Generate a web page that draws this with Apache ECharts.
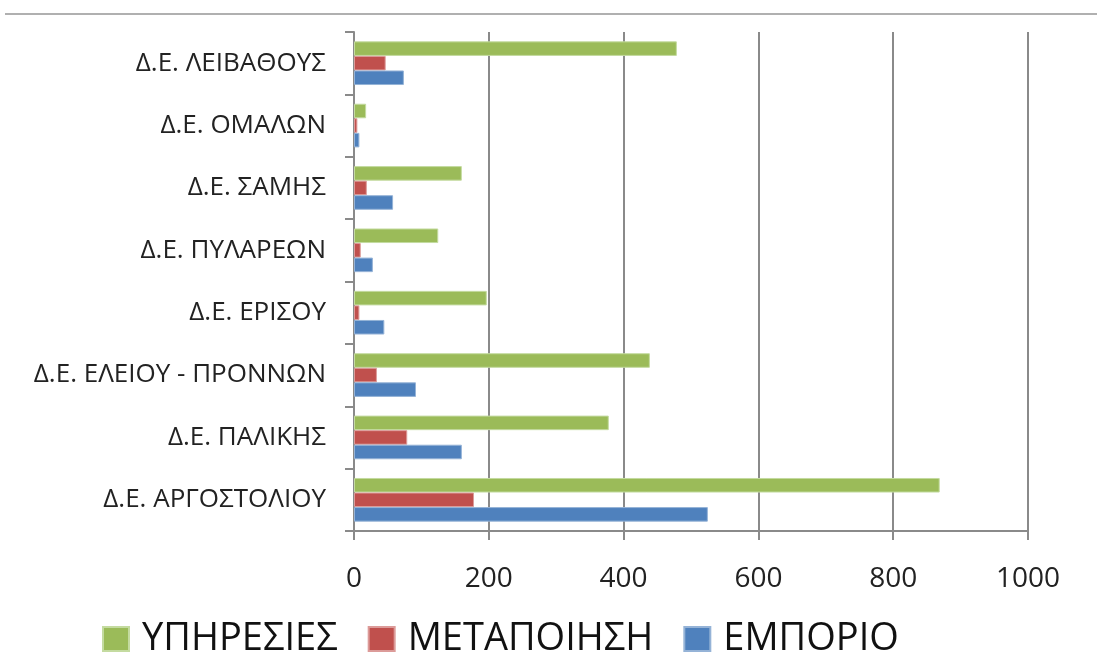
<!DOCTYPE html>
<html>
<head>
<meta charset="utf-8">
<script src="https://cdn.jsdelivr.net/npm/echarts@6/dist/echarts.min.js"></script>
<style>
  html, body { margin: 0; padding: 0; background: #fff; }
  #chart { width: 1097px; height: 660px; }
</style>
</head>
<body>
<div id="chart"></div>
<script>
// categories, bottom to top
var categories = ['Δ.Ε. ΑΡΓΟΣΤΟΛΙΟΥ', 'Δ.Ε. ΠΑΛΙΚΗΣ', 'Δ.Ε. ΕΛΕΙΟΥ - ΠΡΟΝΝΩΝ', 'Δ.Ε. ΕΡΙΣΟΥ',
    'Δ.Ε. ΠΥΛΑΡΕΩΝ', 'Δ.Ε. ΣΑΜΗΣ', 'Δ.Ε. ΟΜΑΛΩΝ', 'Δ.Ε. ΛΕΙΒΑΘΟΥΣ'];
var ypiresies = [869, 378, 439, 197, 125, 160, 18, 479];
var metapoiisi = [178, 79, 34, 8, 10, 19, 5, 47];
var emporio = [525, 160, 92, 45, 28, 58, 8, 74];
var xTicks = [0, 200, 400, 600, 800, 1000];

var myChart = echarts.init(document.getElementById('chart'));
var font = '"Open Sans", "Noto Sans", sans-serif';

var option = {
    animation: false,
    textStyle: { fontFamily: font },
    color: ['#9BBB59', '#C0504D', '#4F81BD'],
    graphic: [{
        type: 'line',
        shape: { x1: 5, y1: 14, x2: 1097, y2: 14 },
        style: { stroke: '#b0b0b0', lineWidth: 2 }
    }],
    grid: { left: 354, right: 69, top: 32, bottom: 129 },
    legend: {
        data: ['ΥΠΗΡΕΣΙΕΣ', 'ΜΕΤΑΠΟΙΗΣΗ', 'ΕΜΠΟΡΙΟ'],
        left: 97,
        top: 615,
        icon: 'rect',
        itemWidth: 26,
        itemHeight: 24,
        itemGap: 30,
        textStyle: { fontSize: 38, color: '#111', fontFamily: font, padding: [0, 0, 0, 8] }
    },
    xAxis: {
        type: 'value',
        min: xTicks[0],
        max: xTicks[xTicks.length - 1],
        interval: 200,
        axisLine: { show: true, lineStyle: { color: '#8a8a8a', width: 2 } },
        axisTick: { show: true, length: 9, lineStyle: { color: '#8a8a8a', width: 2 } },
        axisLabel: { fontSize: 28, color: '#222', margin: 34, formatter: function (v) { return String(v); } },
        splitLine: { show: true, lineStyle: { color: '#8a8a8a', width: 2 } }
    },
    yAxis: {
        type: 'category',
        data: categories,
        axisLine: { show: true, lineStyle: { color: '#8a8a8a', width: 2 } },
        axisTick: { show: true, length: 9, lineStyle: { color: '#8a8a8a', width: 2 } },
        axisLabel: { fontSize: 26, color: '#222', margin: 28 }
    },
    series: [
        {
            name: 'ΥΠΗΡΕΣΙΕΣ', type: 'bar', data: ypiresies,
            barGap: '0%', barCategoryGap: '30%',
            itemStyle: { borderColor: '#c4dba0', borderWidth: 1 }
        },
        {
            name: 'ΜΕΤΑΠΟΙΗΣΗ', type: 'bar', data: metapoiisi,
            itemStyle: { borderColor: '#dc9b99', borderWidth: 1 }
        },
        {
            name: 'ΕΜΠΟΡΙΟ', type: 'bar', data: emporio,
            itemStyle: { borderColor: '#95b3d7', borderWidth: 1 }
        }
    ]
};

myChart.setOption(option);
</script>
</body>
</html>
